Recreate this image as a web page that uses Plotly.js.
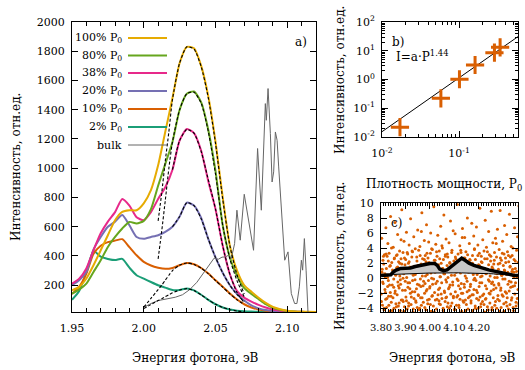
<!DOCTYPE html>
<html><head><meta charset="utf-8">
<script src="https://cdn.plot.ly/plotly-3.0.1.min.js"></script>
<style>html,body{margin:0;padding:0;background:#fff}#plot{width:525px;height:370px}</style>
</head><body><div id="plot"></div>
<script>
// ---------- panel a: PL spectra ----------
const energyA = [1.95,1.955,1.96,1.965,1.97,1.975,1.98,1.985,1.99,1.995,2.00,2.005,2.01,2.015,2.02,2.025,2.03,2.035,2.04,2.045,2.05,2.055,2.06,2.065,2.07,2.075,2.08,2.085,2.09,2.095,2.10,2.105,2.11,2.115,2.12];
const p100 = [166,189,246,337,439,542,644,701,713,713,760,850,1020,1250,1480,1720,1830,1820,1700,1490,1180,800,470,300,200,155,115,80,52,36,26,21,19,18,17];
const p80  = [143,170,211,291,371,462,530,588,633,622,640,720,880,1030,1180,1400,1510,1525,1450,1260,980,610,390,265,180,140,105,70,45,32,24,20,18,17,17];
const p38  = [210,245,315,440,555,635,700,790,745,665,645,700,790,870,990,1190,1268,1240,1120,910,720,470,275,160,115,88,66,48,34,26,21,19,18,17,17];
const p20  = [200,234,290,445,530,600,635,680,610,530,518,530,542,565,600,670,765,745,660,515,390,285,200,140,95,62,42,30,24,21,19,18,17,17,17];
const p10  = [140,190,280,415,470,495,505,515,460,405,360,335,320,312,318,337,352,343,318,280,234,189,143,102,70,48,34,26,22,20,18,17,17,17,17];
const p2   = [100,160,290,435,395,380,372,380,320,268,245,222,200,184,168,168,178,165,135,100,70,48,34,26,22,20,19,18,18,17,17,16,16,16,16];

const fitX = [2.00,2.005,2.01,2.0125,2.015,2.0175,2.02,2.025,2.03,2.035,2.04,2.045,2.05,2.055,2.06,2.065,2.07];
const fit100 = [null,null,640,830,1050,1250,1470,1720,1830,1815,1695,1480,1170,790,470,270,140];
const fit80  = [null,null,380,570,780,1000,1180,1400,1510,1520,1445,1250,960,610,380,230,120];
const fit38  = [null,null,null,null,null,null,990,1190,1265,1240,1115,920,720,470,275,150,80];
const fit20  = [null,null,null,null,null,null,600,670,765,745,655,515,390,285,200,135,90];
const fit10  = [50,110,170,200,235,268,300,338,352,342,317,278,232,187,141,100,68];
const fit2   = [40,68,95,108,122,135,148,167,177,164,134,100,70,48,33,24,18];

const bulkX = [2.0007,2.005,2.01,2.016,2.022,2.027,2.032,2.037,2.042,2.046,2.049,2.052,2.0545,2.0568,2.0591,2.061,2.0633,2.0649,2.066,2.0672,2.070,2.0719,2.0742,2.0765,2.0793,2.0807,2.0819,2.0847,2.0854,2.0866,2.0882,2.0894,2.0905,2.0917,2.0929,2.094,2.0959,2.0982,2.1005,2.1028,2.1051,2.1067,2.1084,2.1098,2.1107,2.1119,2.1131,2.1138,2.1145];
const bulkY = [52,75,95,108,118,135,170,220,290,350,385,378,392,394,405,383,485,713,599,508,822,713,564,439,1135,872,713,1442,1328,1545,1237,906,975,1248,1191,1009,690,371,428,143,75,75,189,371,303,519,303,52,0];

const seriesNames = ['100% P<sub>0</sub>','80% P<sub>0</sub>','38% P<sub>0</sub>','20% P<sub>0</sub>','10% P<sub>0</sub>','2% P<sub>0</sub>','bulk'];
const seriesColors = ['#e6ab02','#66a61e','#e7298a','#7570b3','#d95f02','#1b9e77','#666666'];

// ---------- panel b: power dependence ----------
const powerP = [0.0171,0.058,0.101,0.161,0.287,0.34];
const intensityI = [0.0219,0.222,1.02,3.19,8.55,13.2];
const fitP = [0.01,0.58];
const fitI = [0.0153,31];
const logTickVals = [0.01,0.1,1,10,100];
const logTickText = ['10<sup>-2</sup>','10<sup>-1</sup>','10<sup>0</sup>','10<sup>1</sup>','10<sup>2</sup>'];

// ---------- panel c: UV region ----------
const uvX = [3.801,3.803,3.804,3.806,3.808,3.809,3.811,3.812,3.814,3.816,
3.817,3.819,3.820,3.822,3.823,3.825,3.827,3.828,3.830,3.831,
3.833,3.834,3.836,3.838,3.839,3.841,3.842,3.844,3.846,3.847,
3.849,3.850,3.852,3.853,3.855,3.857,3.858,3.860,3.861,3.863,
3.864,3.866,3.868,3.869,3.871,3.872,3.874,3.876,3.877,3.879,
3.880,3.882,3.883,3.885,3.887,3.888,3.890,3.891,3.893,3.894,
3.896,3.898,3.899,3.901,3.902,3.904,3.905,3.907,3.909,3.910,
3.912,3.913,3.915,3.917,3.918,3.920,3.921,3.923,3.924,3.926,
3.928,3.929,3.931,3.932,3.934,3.935,3.937,3.939,3.940,3.942,
3.943,3.945,3.947,3.948,3.950,3.951,3.953,3.954,3.956,3.958,
3.959,3.961,3.962,3.964,3.965,3.967,3.969,3.970,3.972,3.973,
3.975,3.977,3.978,3.980,3.981,3.983,3.984,3.986,3.988,3.989,
3.991,3.992,3.994,3.995,3.997,3.999,4.000,4.002,4.003,4.005,
4.007,4.008,4.010,4.011,4.013,4.014,4.016,4.018,4.019,4.021,
4.022,4.024,4.025,4.027,4.029,4.030,4.032,4.033,4.035,4.037,
4.038,4.040,4.041,4.043,4.044,4.046,4.048,4.049,4.051,4.052,
4.054,4.055,4.057,4.059,4.060,4.062,4.063,4.065,4.066,4.068,
4.070,4.071,4.073,4.074,4.076,4.078,4.079,4.081,4.082,4.084,
4.085,4.087,4.089,4.090,4.092,4.093,4.095,4.096,4.098,4.100,
4.101,4.103,4.104,4.106,4.108,4.109,4.111,4.112,4.114,4.115,
4.117,4.119,4.120,4.122,4.123,4.125,4.126,4.128,4.130,4.131,
4.133,4.134,4.136,4.138,4.139,4.141,4.142,4.144,4.145,4.147,
4.149,4.150,4.152,4.153,4.155,4.156,4.158,4.160,4.161,4.163,
4.164,4.166,4.168,4.169,4.171,4.172,4.174,4.175,4.177,4.179,
4.180,4.182,4.183,4.185,4.186,4.188,4.190,4.191,4.193,4.194,
4.196,4.197,4.199,4.201,4.202,4.204,4.205,4.207,4.209,4.210,
4.212,4.213,4.215,4.216,4.218,4.220,4.221,4.223,4.224,4.226,
4.227,4.229,4.231,4.232,4.234,4.235,4.237,4.239,4.240,4.242,
4.243,4.245,4.246,4.248,4.250,4.251,4.253,4.254,4.256,4.257,
4.259,4.261,4.262,4.264,4.265,4.267,4.268,4.270,4.272,4.273,
4.275,4.276,4.278,4.280,4.281,4.283,4.284,4.286,4.287,4.289,
4.291,4.292,4.294,4.295,4.297,4.298,4.300,4.302,4.303,4.305,
4.306,4.308,4.309,4.311,4.313,4.314,4.316,4.317,4.319,4.321,
4.322,4.324,4.325,4.327,4.328,4.330,4.332,4.333,4.335,4.336,
4.338,4.339,4.341,4.343,4.344,4.346,4.347,4.349,4.350,4.352,
4.354,4.355,4.357,4.358,4.360,4.361,4.363,4.364,4.366,4.368];
const uvY = [-2.1,5.3,0.8,-3.6,2.4,-0.7,1.9,-4.2,3.1,-1.5,
0.2,-2.8,6.7,1.3,-3.9,2.9,-1.1,4.6,-0.3,-2.4,
3.3,-4.4,1.6,-1.9,8.2,0.5,-3.2,2.1,-0.9,1.1,
-2.6,4.1,-0.1,-4.0,2.7,7.4,-1.7,0.9,-3.4,3.0,
1.4,-2.2,5.8,-0.5,-3.7,2.2,-1.3,3.6,0.3,-4.3,
-0.8,2.6,-2.9,9.1,1.0,-1.6,3.4,-3.1,0.6,4.9,
-3.8,1.8,-0.4,2.5,-2.5,6.1,0.1,-4.1,3.2,-1.2,
2.0,-3.3,4.4,-0.6,1.5,-2.0,7.9,-3.5,0.7,2.8,
-1.8,3.5,-4.5,0.4,5.5,-2.7,1.2,-0.2,3.9,-3.0,
0.9,-1.4,2.3,-3.9,6.4,1.7,-2.3,3.7,-0.9,-4.0,
4.2,-0.1,-2.6,1.9,-3.6,8.7,0.3,2.6,-1.0,-3.2,
1.1,5.0,-2.0,-0.7,3.0,-4.2,2.2,7.1,-1.5,0.5,
-3.4,2.7,-0.3,4.8,-2.8,1.4,-1.1,3.3,6.0,-4.4,
0.0,-2.4,3.8,-0.8,1.6,-3.7,9.5,2.4,-1.9,0.8,
-2.9,4.5,1.0,-4.1,2.9,-0.4,5.7,-2.2,1.8,-3.0,
3.6,-1.3,0.2,-3.5,6.9,2.0,-0.6,-2.7,4.0,1.3,
-4.3,2.5,8.4,-1.7,0.6,-3.1,3.1,-0.2,5.2,-2.5,
1.7,-3.8,2.8,0.1,-1.4,4.7,-4.0,2.1,-0.9,7.6,
-2.1,0.9,3.4,-3.3,1.5,-0.5,6.3,-2.6,2.3,-4.2,
0.4,5.9,-1.8,2.6,-3.6,1.0,-0.1,9.8,-2.3,3.2,
-1.0,-3.9,2.0,4.3,-2.8,0.7,3.7,-0.7,-4.4,1.9,
6.6,-2.0,1.2,-3.2,2.7,-1.2,5.4,0.3,-2.9,3.5,
-3.5,1.6,-0.4,8.0,2.2,-4.1,0.8,-1.6,4.6,-2.4,
2.4,-0.8,-3.0,1.4,7.3,-2.2,3.0,-4.3,0.5,5.6,
-1.5,3.9,0.0,-3.7,2.5,-0.3,6.8,-2.7,1.1,-1.9,
4.4,-4.0,1.8,-1.1,3.3,9.3,-2.5,0.2,-3.4,2.9,
-0.6,2.1,-3.1,5.1,0.9,-2.1,3.6,-4.5,1.3,7.7,
-2.8,0.6,4.1,-1.4,2.6,-3.8,1.0,-0.2,6.2,-2.0,
3.1,-3.3,0.3,2.3,-1.7,8.9,-4.2,1.5,-0.5,4.7,
-2.6,1.9,-0.9,3.4,-3.6,0.7,5.3,-1.3,2.8,-4.0,
0.1,6.5,-2.3,1.2,-0.7,3.8,-3.0,2.0,9.0,-1.6,
-3.9,2.4,0.4,-2.2,4.9,-0.1,1.7,-4.4,3.2,7.0,
1.0,-1.8,2.7,-3.2,0.5,5.8,-2.6,3.5,-0.8,-4.1,
2.2,-0.4,8.5,-3.5,1.6,-1.2,4.2,-2.9,0.9,3.0,
-1.1,4.0,-4.3,0.8,2.5,6.7,-2.1,1.3,-0.6,-3.7,
3.7,0.2,-2.7,5.5,-1.5,2.1,-3.4,9.6,0.6,-0.3];
const uvX2 = [3.802,3.805,3.807,3.810,3.813,3.816,3.818,3.821,3.824,3.827,
3.830,3.832,3.835,3.838,3.841,3.843,3.846,3.849,3.852,3.854,
3.857,3.860,3.863,3.866,3.868,3.871,3.874,3.877,3.879,3.882,
3.885,3.888,3.890,3.893,3.896,3.899,3.902,3.904,3.907,3.910,
3.913,3.915,3.918,3.921,3.924,3.927,3.929,3.932,3.935,3.938,
3.940,3.943,3.946,3.949,3.952,3.954,3.957,3.960,3.963,3.965,
3.968,3.971,3.974,3.977,3.979,3.982,3.985,3.988,3.990,3.993,
3.996,3.999,4.002,4.004,4.007,4.010,4.013,4.015,4.018,4.021,
4.024,4.027,4.029,4.032,4.035,4.038,4.040,4.043,4.046,4.049,
4.052,4.054,4.057,4.060,4.063,4.065,4.068,4.071,4.074,4.077,
4.079,4.082,4.085,4.088,4.090,4.093,4.096,4.099,4.102,4.104,
4.107,4.110,4.113,4.115,4.118,4.121,4.124,4.127,4.129,4.132,
4.135,4.138,4.140,4.143,4.146,4.149,4.152,4.154,4.157,4.160,
4.163,4.165,4.168,4.171,4.174,4.177,4.179,4.182,4.185,4.188,
4.190,4.193,4.196,4.199,4.202,4.204,4.207,4.210,4.213,4.215,
4.218,4.221,4.224,4.227,4.229,4.232,4.235,4.238,4.240,4.243,
4.246,4.249,4.252,4.254,4.257,4.260,4.263,4.265,4.268,4.271,
4.274,4.277,4.279,4.282,4.285,4.288,4.290,4.293,4.296,4.299,
4.302,4.304,4.307,4.310,4.313,4.315,4.318,4.321,4.324,4.327,
4.329,4.332,4.335,4.338,4.340,4.343,4.346,4.349,4.352,4.354];
const uvY2 = [-3.1,1.2,-0.5,2.9,-4.0,0.6,-1.9,3.2,-2.7,0.1,
2.3,-3.6,-0.9,1.7,-2.4,4.0,-4.3,0.8,-1.2,2.6,
-2.0,0.4,-3.8,3.1,1.5,-1.0,-3.3,2.0,-0.2,5.1,
1.9,-2.9,0.0,-4.4,2.7,-1.6,1.1,-3.0,3.4,-0.6,
-3.7,2.2,-1.4,0.9,-2.5,3.6,-0.3,-4.1,1.6,-1.8,
0.5,-3.2,2.8,-0.8,-2.2,1.3,-4.2,3.0,-1.1,6.2,
-2.6,1.0,-0.4,2.5,-3.9,0.3,-1.7,3.3,-2.9,1.8,
2.1,-1.3,-3.5,0.7,3.9,-2.3,1.4,-0.1,-4.5,2.4,
-0.7,3.5,-2.8,1.1,-1.5,-3.4,2.6,0.2,-2.1,4.3,
1.3,-4.0,0.6,-1.9,2.9,-2.6,-0.5,3.2,-3.3,1.0,
-1.2,2.0,-3.7,0.4,3.7,-0.9,-2.4,1.5,-4.1,2.8,
0.8,-2.5,2.3,-0.3,-3.6,1.9,-1.4,3.4,-2.0,5.4,
-3.0,1.6,-0.8,2.7,-4.3,0.0,-1.8,3.1,-2.6,1.2,
2.5,-1.1,-3.3,0.9,2.0,-2.2,-0.2,3.8,-4.0,1.4,
-1.6,0.5,3.0,-2.9,1.7,-0.6,-3.8,2.2,0.3,-2.3,
1.0,-3.5,2.6,-1.0,-2.7,0.7,3.5,-4.2,1.8,-0.4,
-2.1,2.9,-0.7,-3.9,1.3,-1.5,2.4,0.1,-3.1,4.6,
0.6,-2.8,1.9,-0.9,-4.4,2.7,-1.3,0.4,3.3,-2.4,
-3.4,1.1,-0.1,2.1,-2.0,-3.7,0.8,3.0,-1.7,1.5,
2.8,-0.5,-2.6,1.2,-3.9,0.2,-1.0,2.3,-3.2,0.9];
const smoothX = [3.80,3.82,3.84,3.85,3.86,3.88,3.90,3.92,3.94,3.96,3.98,4.00,4.02,4.03,4.04,4.055,4.07,4.085,4.10,4.115,4.13,4.145,4.16,4.18,4.20,4.22,4.24,4.26,4.28,4.30,4.32,4.34,4.36];
const smoothY = [0.35,0.35,0.45,0.8,1.05,1.3,1.35,1.35,1.55,1.7,1.75,1.95,1.95,1.7,1.2,1.0,1.1,1.5,2.0,2.4,2.65,2.35,2.0,1.7,1.45,1.3,1.1,0.95,0.8,0.65,0.5,0.4,0.35];
const baseY   = [0.35,0.35,0.45,0.5,0.52,0.55,0.58,0.6,0.62,0.64,0.66,0.68,0.7,0.7,0.71,0.72,0.72,0.72,0.72,0.71,0.7,0.7,0.69,0.67,0.65,0.62,0.6,0.57,0.54,0.5,0.45,0.4,0.35];

const font = 'DejaVu Serif';
const traces = [];
const curves = [p100,p80,p38,p20,p10,p2];
const fits = [fit100,fit80,fit38,fit20,fit10,fit2];
for (let i = curves.length-1; i >= 0; i--) {
  traces.push({x: energyA, y: curves[i], type:'scatter', mode:'lines', line:{color: seriesColors[i], width:2, shape:'spline', smoothing:0.6}, xaxis:'x', yaxis:'y', hoverinfo:'skip'});
}
traces.push({x: bulkX, y: bulkY, type:'scatter', mode:'lines', line:{color: seriesColors[6], width:1}, xaxis:'x', yaxis:'y', hoverinfo:'skip'});
for (let i = 0; i < fits.length; i++) {
  traces.push({x: fitX, y: fits[i], type:'scatter', mode:'lines', connectgaps:false, line:{color:'#000', width:1.1, dash:'3px,2px', shape:'spline', smoothing:0.6}, xaxis:'x', yaxis:'y', hoverinfo:'skip'});
}
traces.push({x: fitP, y: fitI, type:'scatter', mode:'lines', line:{color:'#000', width:1}, xaxis:'x2', yaxis:'y2', hoverinfo:'skip'});
traces.push({x: powerP, y: intensityI, type:'scatter', mode:'markers', marker:{symbol:'cross-thin', size:13, color:'#d95f02', line:{color:'#d95f02', width:3}}, xaxis:'x2', yaxis:'y2', hoverinfo:'skip'});
traces.push({x: uvX, y: uvY, type:'scatter', mode:'markers', marker:{size:3, color:'#d95f02'}, xaxis:'x3', yaxis:'y3', hoverinfo:'skip'});
traces.push({x: uvX2, y: uvY2, type:'scatter', mode:'markers', marker:{size:3, color:'#d95f02'}, xaxis:'x3', yaxis:'y3', hoverinfo:'skip'});
traces.push({x: smoothX, y: baseY, type:'scatter', mode:'lines', line:{color:'#000', width:1}, xaxis:'x3', yaxis:'y3', hoverinfo:'skip'});
traces.push({x: smoothX, y: smoothY, type:'scatter', mode:'lines', fill:'tonexty', fillcolor:'#c8c8c8', line:{color:'#000', width:3.5}, xaxis:'x3', yaxis:'y3', hoverinfo:'skip'});

const axBase = {showline:true, linecolor:'#000', linewidth:1, mirror:'allticks', ticks:'inside', tickcolor:'#000', ticklen:6, showgrid:false, zeroline:false, tickangle:0, tickfont:{family:font, size:11, color:'#000'}};
function ax(extra){ return Object.assign({}, axBase, extra); }

const px = v => v/525, py = v => 1 - v/370;

const annotations = [];
const shapes = [];
const legendRows = [38,55.5,73,91,109,127,145];
for (let i = 0; i < seriesNames.length; i++) {
  annotations.push({xref:'paper', yref:'paper', x: px(124), y: py(legendRows[i]), xanchor:'right', yanchor:'middle', text: seriesNames[i], showarrow:false, font:{family:font, size:11, color:'#000'}});
  shapes.push({type:'line', xref:'paper', yref:'paper', x0: px(128), x1: px(167), y0: py(legendRows[i]), y1: py(legendRows[i]), line:{color: seriesColors[i], width: i===6 ? 1 : 2}});
}
const txt = (x,y,t,opt) => Object.assign({xref:'paper', yref:'paper', x:px(x), y:py(y), xanchor:'center', yanchor:'middle', text:t, showarrow:false, font:{family:font, size:12, color:'#000'}}, opt||{});
annotations.push(txt(301,42,'a)'));
annotations.push(txt(398,42,'b)'));
annotations.push(txt(394,56,'I=a·P<sup>1.44</sup>',{xanchor:'left'}));
annotations.push(txt(396,223,'c)'));
annotations.push(txt(195,358,'Энергия фотона, эВ'));
annotations.push(txt(452,358,'Энергия фотона, эВ'));
annotations.push(txt(444,185,'Плотность мощности, P<sub>0</sub>'));
annotations.push(txt(16,167,'Интенсивность, отн.ед.',{textangle:-90}));
annotations.push(txt(340,80,'Интенсивность, отн.ед.',{textangle:-90}));
annotations.push(txt(340,256,'Интенсивность, отн.ед.',{textangle:-90}));

const layout = {
  width:525, height:370, margin:{l:0,r:0,t:0,b:0}, paper_bgcolor:'#fff', plot_bgcolor:'#fff', showlegend:false,
  font:{family:font, size:11, color:'#000'},
  xaxis: ax({domain:[px(72), px(316)], range:[1.95,2.12], anchor:'y', tick0:1.95, dtick:0.05, tickformat:'.2f', ticklabelstandoff:6,
    minor:{dtick:0.01, ticks:'inside', ticklen:4, tickcolor:'#000', showgrid:false}}),
  yaxis: ax({domain:[py(312), py(22)], range:[17,2000], anchor:'x', tick0:0, dtick:200, ticklabelstandoff:4}),
  xaxis2: ax({domain:[px(382), px(518)], type:'log', range:[-2, Math.log10(0.58)], anchor:'y2', tickvals:logTickVals, ticktext:logTickText, ticklabelstandoff:6,
    minor:{tickvals:[0.02,0.03,0.04,0.05,0.06,0.07,0.08,0.09,0.2,0.3,0.4,0.5], ticks:'inside', ticklen:3, tickcolor:'#000', showgrid:false}}),
  yaxis2: ax({domain:[py(137), py(22)], type:'log', range:[-2,2], anchor:'x2', tickvals:logTickVals, ticktext:logTickText, ticklabelstandoff:4,
    minor:{tickvals:[0.02,0.03,0.04,0.05,0.06,0.07,0.08,0.09,0.2,0.3,0.4,0.5,0.6,0.7,0.8,0.9,2,3,4,5,6,7,8,9,20,30,40,50,60,70,80,90], ticks:'inside', ticklen:3, tickcolor:'#000', showgrid:false}}),
  xaxis3: ax({domain:[px(381), px(518)], range:[3.80,4.36], anchor:'y3', tickvals:[3.8,3.9,4.0,4.1,4.2], tickformat:'.2f', ticklabelstandoff:6, tickfont:{family:font, size:10, color:'#000'},
    minor:{dtick:0.01, ticks:'inside', ticklen:3, tickcolor:'#000', showgrid:false}}),
  yaxis3: ax({domain:[py(312), py(203)], range:[-4.5,10], anchor:'x3', tick0:0, dtick:2, ticklabelstandoff:4}),
  annotations: annotations,
  shapes: shapes
};
Plotly.newPlot('plot', traces, layout, {displayModeBar:false, staticPlot:true});
</script></body></html>
